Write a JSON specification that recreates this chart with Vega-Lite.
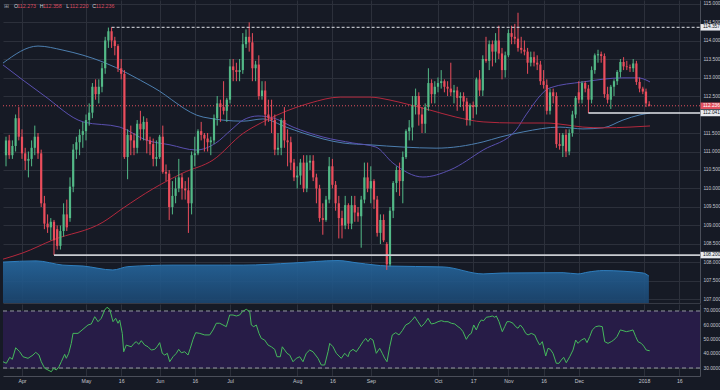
{
"$schema":"https://vega.github.io/schema/vega-lite/v6.json",
"background":"#161a25",
"padding":0,
"autosize":{"type":"pad"},
"spacing":1,
"config":{"view":{"stroke":null},"font":"Liberation Sans","scale":{"continuousPadding":0},"axis":{"labelFont":"Liberation Sans","labelColor":"#c3c6ce","gridColor":"#2c303b","domainColor":"#4a4e59","labelOverlap":false}},
"datasets":{
"ohlc":[
{"i":-5,"o":110.9,"h":111.4,"l":110.6,"c":111.3},{"i":-4,"o":111.3,"h":111.45,"l":110.8,"c":110.9},{"i":-3,"o":110.9,"h":111.3,"l":110.8,"c":111.15},{"i":-2,"o":111.15,"h":112.0,"l":111.0,"c":111.9},{"i":-1,"o":111.9,"h":112.2,"l":111.3,"c":111.4},
{"i":0,"o":111.4,"h":111.6,"l":110.8,"c":110.95},{"i":1,"o":110.95,"h":111.1,"l":110.5,"c":110.75},{"i":2,"o":110.75,"h":111.0,"l":110.3,"c":110.8},{"i":3,"o":110.8,"h":111.3,"l":110.6,"c":111.1},{"i":4,"o":111.1,"h":111.7,"l":110.9,"c":111.4},
{"i":5,"o":111.4,"h":111.5,"l":110.8,"c":110.95},{"i":6,"o":110.95,"h":111.05,"l":109.5,"c":109.6},{"i":7,"o":109.6,"h":109.8,"l":108.9,"c":109.05},{"i":8,"o":109.05,"h":109.3,"l":108.8,"c":108.95},{"i":9,"o":108.95,"h":109.2,"l":108.6,"c":109.1},
{"i":10,"o":109.1,"h":109.15,"l":108.2,"c":108.6},{"i":11,"o":108.9,"h":109.0,"l":108.35,"c":108.45},{"i":12,"o":108.45,"h":109.0,"l":108.35,"c":108.85},{"i":13,"o":108.85,"h":109.6,"l":108.7,"c":109.3},{"i":14,"o":109.3,"h":109.7,"l":108.85,"c":108.95},
{"i":15,"o":109.2,"h":110.3,"l":109.1,"c":110.05},{"i":16,"o":110.05,"h":111.2,"l":109.9,"c":111.05},{"i":17,"o":111.05,"h":111.4,"l":110.8,"c":111.25},{"i":18,"o":111.25,"h":111.6,"l":110.9,"c":111.45},{"i":19,"o":111.45,"h":111.8,"l":111.1,"c":111.55},
{"i":20,"o":111.55,"h":112.0,"l":111.3,"c":111.85},{"i":21,"o":111.85,"h":112.3,"l":111.7,"c":112.05},{"i":22,"o":112.05,"h":112.85,"l":111.9,"c":112.75},{"i":23,"o":112.75,"h":112.95,"l":112.4,"c":112.55},{"i":24,"o":112.55,"h":112.95,"l":112.3,"c":112.75},
{"i":25,"o":112.75,"h":113.4,"l":112.6,"c":113.25},{"i":26,"o":113.25,"h":114.1,"l":113.1,"c":114.0},{"i":27,"o":114.0,"h":114.35,"l":113.8,"c":114.25},{"i":28,"o":114.25,"h":114.357,"l":113.8,"c":114.0},{"i":29,"o":114.0,"h":114.1,"l":113.6,"c":113.85},
{"i":30,"o":113.85,"h":113.9,"l":113.15,"c":113.25},{"i":31,"o":113.25,"h":113.5,"l":112.95,"c":113.1},{"i":32,"o":113.1,"h":113.2,"l":110.8,"c":110.85},{"i":33,"o":110.85,"h":111.6,"l":110.25,"c":111.45},{"i":34,"o":111.45,"h":111.7,"l":110.9,"c":111.3},
{"i":35,"o":111.3,"h":111.5,"l":110.9,"c":111.1},{"i":36,"o":111.1,"h":111.85,"l":110.95,"c":111.75},{"i":37,"o":111.75,"h":112.1,"l":111.3,"c":111.6},{"i":38,"o":111.6,"h":111.95,"l":111.3,"c":111.8},{"i":39,"o":111.8,"h":111.9,"l":110.95,"c":111.3},
{"i":40,"o":111.3,"h":111.4,"l":110.9,"c":111.2},{"i":41,"o":111.2,"h":111.35,"l":110.6,"c":110.8},{"i":42,"o":110.8,"h":111.3,"l":110.6,"c":110.85},{"i":43,"o":110.85,"h":111.45,"l":110.8,"c":111.4},{"i":44,"o":111.4,"h":111.7,"l":110.4,"c":110.45},
{"i":45,"o":110.45,"h":110.65,"l":110.2,"c":110.4},{"i":46,"o":110.4,"h":110.5,"l":109.15,"c":109.5},{"i":47,"o":109.5,"h":110.2,"l":109.3,"c":109.8},{"i":48,"o":109.8,"h":110.3,"l":109.6,"c":110.0},{"i":49,"o":110.0,"h":110.8,"l":109.9,"c":110.3},
{"i":50,"o":110.3,"h":110.4,"l":109.7,"c":110.0},{"i":51,"o":110.0,"h":110.2,"l":109.7,"c":109.95},{"i":52,"o":109.95,"h":110.3,"l":108.8,"c":109.6},{"i":53,"o":109.6,"h":111.0,"l":109.3,"c":110.9},{"i":54,"o":110.9,"h":111.4,"l":110.6,"c":110.95},
{"i":55,"o":110.95,"h":111.6,"l":110.9,"c":111.55},{"i":56,"o":111.55,"h":111.8,"l":111.3,"c":111.45},{"i":57,"o":111.45,"h":111.5,"l":111.0,"c":111.35},{"i":58,"o":111.35,"h":111.5,"l":111.0,"c":111.25},{"i":59,"o":111.25,"h":111.4,"l":110.9,"c":111.3},
{"i":60,"o":111.3,"h":112.0,"l":111.2,"c":111.9},{"i":61,"o":111.9,"h":112.5,"l":111.7,"c":112.3},{"i":62,"o":112.3,"h":112.4,"l":111.8,"c":112.2},{"i":63,"o":112.2,"h":112.9,"l":112.0,"c":112.1},{"i":64,"o":112.1,"h":112.45,"l":111.8,"c":112.4},
{"i":65,"o":112.4,"h":113.5,"l":112.3,"c":113.3},{"i":66,"o":113.3,"h":113.5,"l":112.9,"c":113.2},{"i":67,"o":113.2,"h":113.4,"l":112.9,"c":113.15},{"i":68,"o":113.15,"h":113.5,"l":112.9,"c":113.2},{"i":69,"o":113.2,"h":114.2,"l":113.1,"c":113.9},
{"i":70,"o":113.9,"h":114.3,"l":113.8,"c":114.1},{"i":71,"o":114.1,"h":114.49,"l":113.7,"c":113.95},{"i":72,"o":113.95,"h":114.2,"l":112.9,"c":113.25},{"i":73,"o":113.25,"h":113.45,"l":112.9,"c":113.35},{"i":74,"o":113.35,"h":113.6,"l":112.4,"c":112.5},
{"i":75,"o":112.5,"h":112.9,"l":112.4,"c":112.65},{"i":76,"o":112.65,"h":112.9,"l":111.7,"c":112.0},{"i":77,"o":112.0,"h":112.4,"l":111.8,"c":111.9},{"i":78,"o":111.9,"h":112.4,"l":111.5,"c":111.85},{"i":79,"o":111.85,"h":112.0,"l":110.9,"c":111.05},
{"i":80,"o":111.05,"h":111.5,"l":110.9,"c":111.1},{"i":81,"o":111.1,"h":111.9,"l":110.9,"c":111.85},{"i":82,"o":111.85,"h":112.2,"l":111.1,"c":111.3},{"i":83,"o":111.3,"h":111.6,"l":110.6,"c":111.25},{"i":84,"o":111.25,"h":111.4,"l":110.5,"c":110.7},
{"i":85,"o":110.7,"h":110.8,"l":110.2,"c":110.3},{"i":86,"o":110.3,"h":110.6,"l":110.0,"c":110.35},{"i":87,"o":110.35,"h":110.8,"l":110.1,"c":110.7},{"i":88,"o":110.7,"h":110.9,"l":109.9,"c":110.0},{"i":89,"o":110.0,"h":110.9,"l":109.9,"c":110.7},
{"i":90,"o":110.7,"h":110.9,"l":110.5,"c":110.75},{"i":91,"o":110.75,"h":110.9,"l":110.2,"c":110.3},{"i":92,"o":110.3,"h":110.4,"l":109.6,"c":110.0},{"i":93,"o":110.0,"h":110.1,"l":109.1,"c":109.2},{"i":94,"o":109.2,"h":109.6,"l":108.75,"c":109.15},
{"i":95,"o":109.15,"h":109.8,"l":109.1,"c":109.7},{"i":96,"o":109.7,"h":110.85,"l":109.6,"c":110.6},{"i":97,"o":110.6,"h":110.8,"l":110.0,"c":110.1},{"i":98,"o":110.1,"h":110.2,"l":109.4,"c":109.6},{"i":99,"o":109.6,"h":109.8,"l":108.65,"c":109.2},
{"i":100,"o":109.2,"h":109.4,"l":108.65,"c":109.0},{"i":101,"o":109.0,"h":109.8,"l":108.9,"c":109.55},{"i":102,"o":109.55,"h":109.6,"l":108.9,"c":109.05},{"i":103,"o":109.05,"h":109.8,"l":108.9,"c":109.55},{"i":104,"o":109.55,"h":109.8,"l":109.1,"c":109.35},
{"i":105,"o":109.35,"h":109.5,"l":109.1,"c":109.25},{"i":106,"o":109.25,"h":109.8,"l":108.4,"c":109.7},{"i":107,"o":109.7,"h":110.7,"l":109.6,"c":110.3},{"i":108,"o":110.3,"h":110.7,"l":109.9,"c":110.0},{"i":109,"o":110.0,"h":110.6,"l":109.6,"c":110.2},
{"i":110,"o":110.2,"h":110.25,"l":109.45,"c":109.7},{"i":111,"o":109.7,"h":109.8,"l":108.7,"c":108.8},{"i":112,"o":108.8,"h":109.3,"l":108.5,"c":109.15},{"i":113,"o":109.15,"h":109.3,"l":108.55,"c":108.6},{"i":114,"o":108.5,"h":108.55,"l":107.8,"c":107.95},
{"i":115,"o":107.95,"h":109.5,"l":107.9,"c":109.4},{"i":116,"o":109.4,"h":110.2,"l":109.2,"c":110.15},{"i":117,"o":110.15,"h":110.6,"l":109.9,"c":110.5},{"i":118,"o":110.5,"h":110.7,"l":109.8,"c":110.2},{"i":119,"o":110.2,"h":111.0,"l":109.6,"c":110.85},
{"i":120,"o":110.85,"h":111.6,"l":110.8,"c":111.55},{"i":121,"o":111.55,"h":111.85,"l":111.3,"c":111.65},{"i":122,"o":111.65,"h":112.5,"l":111.3,"c":112.25},{"i":123,"o":112.25,"h":112.7,"l":112.0,"c":112.5},{"i":124,"o":112.5,"h":112.6,"l":111.7,"c":112.0},
{"i":125,"o":112.0,"h":112.2,"l":111.5,"c":111.75},{"i":126,"o":111.75,"h":112.3,"l":111.5,"c":112.2},{"i":127,"o":112.2,"h":113.25,"l":112.1,"c":112.85},{"i":128,"o":112.85,"h":112.95,"l":112.3,"c":112.55},{"i":129,"o":112.55,"h":112.9,"l":112.3,"c":112.75},
{"i":130,"o":112.75,"h":113.0,"l":112.6,"c":112.85},{"i":131,"o":112.85,"h":113.2,"l":112.7,"c":112.9},{"i":132,"o":112.9,"h":112.95,"l":112.6,"c":112.75},{"i":133,"o":112.75,"h":112.9,"l":112.5,"c":112.7},{"i":134,"o":112.7,"h":113.4,"l":112.5,"c":112.6},
{"i":135,"o":112.6,"h":112.8,"l":112.3,"c":112.65},{"i":136,"o":112.65,"h":112.75,"l":112.1,"c":112.45},{"i":137,"o":112.45,"h":112.6,"l":112.2,"c":112.5},{"i":138,"o":112.5,"h":112.6,"l":112.1,"c":112.35},{"i":139,"o":112.35,"h":112.45,"l":111.7,"c":111.85},
{"i":140,"o":111.85,"h":112.3,"l":111.7,"c":112.25},{"i":141,"o":112.25,"h":112.35,"l":111.9,"c":112.2},{"i":142,"o":112.2,"h":113.0,"l":112.0,"c":112.95},{"i":143,"o":112.95,"h":113.2,"l":112.5,"c":112.65},{"i":144,"o":112.65,"h":113.6,"l":112.5,"c":113.5},
{"i":145,"o":113.5,"h":114.1,"l":113.4,"c":113.45},{"i":146,"o":113.45,"h":114.0,"l":113.2,"c":113.9},{"i":147,"o":113.9,"h":114.0,"l":113.3,"c":113.7},{"i":148,"o":113.7,"h":114.2,"l":113.4,"c":114.0},{"i":149,"o":114.0,"h":114.4,"l":113.5,"c":113.65},
{"i":150,"o":113.65,"h":113.8,"l":112.95,"c":113.2},{"i":151,"o":113.2,"h":113.7,"l":113.0,"c":113.6},{"i":152,"o":113.6,"h":114.3,"l":113.55,"c":114.2},{"i":153,"o":114.2,"h":114.4,"l":113.9,"c":114.1},{"i":154,"o":114.1,"h":114.45,"l":113.9,"c":114.05},
{"i":155,"o":114.05,"h":114.75,"l":113.7,"c":113.8},{"i":156,"o":113.8,"h":114.1,"l":113.65,"c":113.75},{"i":157,"o":113.75,"h":114.0,"l":113.6,"c":113.7},{"i":158,"o":113.7,"h":113.8,"l":113.1,"c":113.4},{"i":159,"o":113.4,"h":113.7,"l":113.3,"c":113.55},
{"i":160,"o":113.55,"h":113.7,"l":113.3,"c":113.4},{"i":161,"o":113.4,"h":113.6,"l":113.2,"c":113.35},{"i":162,"o":113.35,"h":113.45,"l":112.8,"c":112.9},{"i":163,"o":112.9,"h":113.2,"l":112.7,"c":112.8},{"i":164,"o":112.8,"h":112.95,"l":112.0,"c":112.1},
{"i":165,"o":112.1,"h":112.7,"l":112.0,"c":112.6},{"i":166,"o":112.6,"h":112.7,"l":112.3,"c":112.5},{"i":167,"o":112.5,"h":112.6,"l":111.1,"c":111.2},{"i":168,"o":111.2,"h":111.5,"l":111.05,"c":111.15},{"i":169,"o":111.15,"h":111.5,"l":110.85,"c":111.45},
{"i":170,"o":111.45,"h":111.6,"l":110.85,"c":111.0},{"i":171,"o":111.0,"h":111.6,"l":110.9,"c":111.5},{"i":172,"o":111.5,"h":112.1,"l":111.4,"c":112.0},{"i":173,"o":112.0,"h":112.5,"l":111.9,"c":112.45},{"i":174,"o":112.6,"h":112.9,"l":112.3,"c":112.4},
{"i":175,"o":112.4,"h":112.9,"l":112.3,"c":112.85},{"i":176,"o":112.85,"h":112.9,"l":112.6,"c":112.7},{"i":177,"o":112.7,"h":112.8,"l":112.041,"c":112.4},{"i":178,"o":112.4,"h":113.3,"l":112.3,"c":113.2},{"i":179,"o":113.2,"h":113.65,"l":113.1,"c":113.6},
{"i":180,"o":113.6,"h":113.75,"l":113.4,"c":113.63},{"i":181,"o":113.63,"h":113.7,"l":113.4,"c":113.58},{"i":182,"o":113.58,"h":113.65,"l":112.45,"c":112.55},{"i":183,"o":112.55,"h":112.75,"l":112.3,"c":112.4},{"i":184,"o":112.4,"h":112.8,"l":112.15,"c":112.75},
{"i":185,"o":112.75,"h":112.95,"l":112.5,"c":112.9},{"i":186,"o":112.9,"h":113.2,"l":112.8,"c":113.15},{"i":187,"o":113.15,"h":113.5,"l":113.0,"c":113.42},{"i":188,"o":113.42,"h":113.55,"l":113.2,"c":113.3},{"i":189,"o":113.3,"h":113.45,"l":113.2,"c":113.28},
{"i":190,"o":113.28,"h":113.35,"l":113.15,"c":113.25},{"i":191,"o":113.25,"h":113.5,"l":113.15,"c":113.38},{"i":192,"o":113.38,"h":113.45,"l":112.8,"c":112.88},{"i":193,"o":112.88,"h":113.0,"l":112.6,"c":112.7},{"i":194,"o":112.7,"h":112.75,"l":112.55,"c":112.62},
{"i":195,"o":112.62,"h":112.7,"l":112.2,"c":112.3},{"i":196,"o":112.273,"h":112.358,"l":112.22,"c":112.236}
],
"ma":[
{"s":"b","i":-5.94,"p":113.39},{"s":"b","i":5.0,"p":113.85},{"s":"b","i":12.8,"p":113.74},{"s":"b","i":25.3,"p":113.42},{"s":"b","i":40.9,"p":112.74},{"s":"b","i":56.6,"p":111.93},{"s":"b","i":69.1,"p":111.82},{"s":"b","i":75.3,"p":111.88},{"s":"b","i":82.5,"p":111.66},{"s":"b","i":87.8,"p":111.5},{"s":"b","i":100.3,"p":111.23},{"s":"b","i":108.75,"p":111.18},{"s":"b","i":119.1,"p":111.12},{"s":"b","i":129.4,"p":111.09},{"s":"b","i":144.1,"p":111.26},{"s":"b","i":149.4,"p":111.39},{"s":"b","i":156.6,"p":111.53},{"s":"b","i":168.1,"p":111.66},{"s":"b","i":175.3,"p":111.61},{"s":"b","i":181.6,"p":111.64},{"s":"b","i":187.8,"p":111.85},{"s":"b","i":193.1,"p":111.99},{"s":"b","i":196.25,"p":112.04},
{"s":"p","i":-5.94,"p":113.34},{"s":"p","i":6.6,"p":112.53},{"s":"p","i":19.1,"p":111.8},{"s":"p","i":30.6,"p":111.66},{"s":"p","i":38.75,"p":111.31},{"s":"p","i":46.25,"p":111.18},{"s":"p","i":54.4,"p":111.04},{"s":"p","i":60.6,"p":111.23},{"s":"p","i":65.3,"p":111.58},{"s":"p","i":69.1,"p":111.85},{"s":"p","i":73.75,"p":111.96},{"s":"p","i":78.4,"p":111.91},{"s":"p","i":84.7,"p":111.66},{"s":"p","i":94.1,"p":111.39},{"s":"p","i":103.4,"p":111.23},{"s":"p","i":110.6,"p":111.12},{"s":"p","i":115.9,"p":110.69},{"s":"p","i":125.3,"p":110.31},{"s":"p","i":133.75,"p":110.5},{"s":"p","i":144.1,"p":111.04},{"s":"p","i":154.4,"p":111.58},{"s":"p","i":157.5,"p":111.99},{"s":"p","i":165.0,"p":112.72},{"s":"p","i":175.3,"p":112.88},{"s":"p","i":187.8,"p":112.99},{"s":"p","i":192.5,"p":112.99},{"s":"p","i":196.25,"p":112.88},
{"s":"r","i":-5.94,"p":108.09},{"s":"r","i":0.3,"p":108.26},{"s":"r","i":9.7,"p":108.61},{"s":"r","i":25.3,"p":109.09},{"s":"r","i":31.6,"p":109.47},{"s":"r","i":40.9,"p":109.99},{"s":"r","i":50.3,"p":110.42},{"s":"r","i":59.7,"p":110.77},{"s":"r","i":69.1,"p":111.49},{"s":"r","i":75.3,"p":111.8},{"s":"r","i":90.0,"p":112.31},{"s":"r","i":99.4,"p":112.47},{"s":"r","i":108.75,"p":112.47},{"s":"r","i":115.0,"p":112.39},{"s":"r","i":121.25,"p":112.26},{"s":"r","i":127.5,"p":112.12},{"s":"r","i":135.6,"p":111.93},{"s":"r","i":144.1,"p":111.8},{"s":"r","i":154.4,"p":111.77},{"s":"r","i":163.75,"p":111.77},{"s":"r","i":170.0,"p":111.72},{"s":"r","i":175.3,"p":111.66},{"s":"r","i":181.6,"p":111.64},{"s":"r","i":190.0,"p":111.66},{"s":"r","i":196.25,"p":111.69}
],
"vol":[
{"i":-5.94,"v":13.5},{"i":4.4,"v":13.9},{"i":12.8,"v":12.5},{"i":19.1,"v":12.2},{"i":28.4,"v":10.9},{"i":33.1,"v":12.0},{"i":47.2,"v":12.5},{"i":62.8,"v":12.5},{"i":69.1,"v":12.5},{"i":84.7,"v":13.2},{"i":98.75,"v":14.0},{"i":105.0,"v":13.2},{"i":114.4,"v":12.2},{"i":131.6,"v":11.9},{"i":144.1,"v":9.6},{"i":150.3,"v":9.9},{"i":169.1,"v":10.0},{"i":173.75,"v":9.6},{"i":176.9,"v":10.2},{"i":181.6,"v":10.7},{"i":194.1,"v":9.9},{"i":195.9,"v":8.9}
],
"rsi":[
{"i":-5.94,"v":34.4},{"i":-4.9,"v":33.3},{"i":-3.84,"v":37.5},{"i":-3.03,"v":36.1},{"i":-1.97,"v":44.2},{"i":-0.72,"v":41.4},{"i":0.31,"v":37.9},{"i":1.88,"v":36.8},{"i":3.44,"v":39.1},{"i":4.28,"v":41.0},{"i":5.31,"v":39.1},{"i":6.03,"v":34.4},{"i":7.09,"v":29.8},{"i":8.13,"v":28.6},{"i":9.16,"v":27.4},{"i":9.9,"v":29.8},{"i":10.72,"v":28.6},{"i":11.56,"v":30.9},{"i":12.28,"v":34.4},{"i":13.34,"v":39.6},{"i":13.84,"v":36.8},{"i":14.59,"v":40.3},{"i":15.41,"v":47.3},{"i":15.94,"v":54.3},{"i":17.5,"v":54.3},{"i":19.06,"v":57.2},{"i":20.63,"v":60.2},{"i":21.66,"v":60.9},{"i":22.72,"v":66.0},{"i":23.75,"v":62.5},{"i":24.78,"v":64.9},{"i":25.84,"v":70.7},{"i":26.56,"v":72.6},{"i":27.41,"v":71.2},{"i":28.44,"v":62.5},{"i":29.28,"v":64.9},{"i":30.0,"v":61.4},{"i":30.53,"v":63.7},{"i":31.34,"v":54.3},{"i":31.78,"v":41.4},{"i":32.59,"v":46.1},{"i":33.44,"v":45.4},{"i":34.16,"v":44.9},{"i":35.0,"v":47.3},{"i":35.72,"v":48.5},{"i":36.47,"v":46.6},{"i":37.28,"v":49.2},{"i":38.34,"v":46.1},{"i":39.38,"v":44.9},{"i":40.41,"v":42.6},{"i":41.47,"v":43.1},{"i":42.19,"v":44.9},{"i":43.03,"v":47.8},{"i":43.84,"v":40.3},{"i":44.59,"v":39.1},{"i":45.41,"v":40.3},{"i":46.16,"v":34.4},{"i":47.19,"v":37.9},{"i":48.22,"v":40.3},{"i":48.97,"v":43.1},{"i":49.78,"v":40.7},{"i":50.84,"v":41.4},{"i":51.88,"v":39.1},{"i":52.59,"v":43.8},{"i":53.44,"v":50.1},{"i":54.28,"v":54.8},{"i":55.53,"v":54.3},{"i":57.09,"v":53.2},{"i":58.66,"v":53.2},{"i":59.69,"v":56.7},{"i":60.72,"v":61.4},{"i":61.78,"v":61.4},{"i":62.81,"v":60.2},{"i":63.84,"v":59.0},{"i":64.91,"v":67.2},{"i":65.94,"v":67.2},{"i":66.97,"v":66.5},{"i":68.03,"v":67.2},{"i":68.84,"v":69.5},{"i":70.09,"v":71.2},{"i":71.16,"v":69.5},{"i":71.66,"v":60.2},{"i":72.41,"v":59.0},{"i":73.22,"v":60.2},{"i":74.06,"v":54.3},{"i":74.78,"v":50.8},{"i":75.84,"v":49.6},{"i":76.88,"v":46.1},{"i":77.91,"v":44.9},{"i":78.97,"v":43.1},{"i":79.69,"v":37.9},{"i":80.72,"v":37.9},{"i":81.34,"v":44.9},{"i":82.09,"v":42.6},{"i":82.81,"v":40.3},{"i":83.66,"v":39.1},{"i":84.69,"v":34.4},{"i":85.72,"v":36.8},{"i":86.78,"v":37.9},{"i":87.81,"v":34.4},{"i":88.84,"v":40.3},{"i":89.91,"v":42.6},{"i":90.94,"v":41.4},{"i":92.5,"v":36.8},{"i":93.53,"v":32.1},{"i":94.59,"v":32.1},{"i":95.63,"v":41.4},{"i":96.16,"v":47.3},{"i":97.19,"v":44.9},{"i":98.22,"v":40.3},{"i":99.78,"v":36.8},{"i":100.84,"v":40.3},{"i":101.88,"v":37.9},{"i":102.41,"v":41.4},{"i":103.44,"v":43.1},{"i":104.47,"v":41.4},{"i":105.53,"v":44.9},{"i":106.56,"v":48.5},
{"i":107.41,"v":50.8},{"i":108.13,"v":48.5},{"i":108.84,"v":50.8},{"i":109.69,"v":49.6},{"i":110.72,"v":40.3},{"i":111.78,"v":43.8},{"i":112.59,"v":40.3},{"i":113.34,"v":36.8},{"i":114.06,"v":34.4},{"i":114.91,"v":44.9},{"i":115.72,"v":53.2},{"i":116.78,"v":54.8},{"i":117.81,"v":53.2},{"i":118.84,"v":56.2},{"i":119.91,"v":60.2},{"i":120.94,"v":61.4},{"i":121.97,"v":63.7},{"i":122.72,"v":66.0},{"i":123.75,"v":62.5},{"i":124.78,"v":59.0},{"i":125.84,"v":61.4},{"i":126.88,"v":64.9},{"i":127.91,"v":60.9},{"i":128.97,"v":61.4},{"i":130.0,"v":62.5},{"i":131.03,"v":63.2},{"i":132.09,"v":62.5},{"i":133.13,"v":62.5},{"i":134.16,"v":61.4},{"i":135.22,"v":60.9},{"i":136.25,"v":59.0},{"i":136.97,"v":57.9},{"i":137.81,"v":55.5},{"i":138.84,"v":50.1},{"i":139.69,"v":53.2},{"i":140.41,"v":54.3},{"i":141.16,"v":60.2},{"i":141.97,"v":56.7},{"i":142.81,"v":61.4},{"i":143.53,"v":63.7},{"i":144.28,"v":63.2},{"i":145.09,"v":65.6},{"i":146.16,"v":66.0},{"i":146.97,"v":66.5},{"i":147.72,"v":65.6},{"i":148.22,"v":66.5},{"i":149.06,"v":62.5},{"i":150.09,"v":55.5},{"i":150.84,"v":59.0},{"i":151.56,"v":62.5},{"i":152.41,"v":62.5},{"i":153.44,"v":61.4},{"i":154.28,"v":59.0},{"i":155.0,"v":57.9},{"i":155.72,"v":60.2},{"i":156.56,"v":57.9},{"i":157.41,"v":54.3},{"i":158.13,"v":53.2},{"i":159.16,"v":54.3},{"i":160.22,"v":53.2},{"i":160.94,"v":49.6},{"i":161.78,"v":46.1},{"i":162.59,"v":48.5},{"i":163.66,"v":38.4},{"i":164.38,"v":43.8},{"i":165.09,"v":43.1},{"i":165.94,"v":40.3},{"i":166.97,"v":33.3},{"i":167.81,"v":33.3},{"i":168.53,"v":35.6},{"i":169.28,"v":37.5},{"i":170.09,"v":33.7},{"i":171.16,"v":37.9},{"i":172.19,"v":42.6},{"i":173.03,"v":49.6},{"i":173.75,"v":47.3},{"i":174.78,"v":49.6},{"i":175.84,"v":50.8},{"i":176.56,"v":47.8},{"i":177.41,"v":52.0},{"i":178.22,"v":56.7},{"i":179.28,"v":59.0},{"i":180.31,"v":59.5},{"i":181.34,"v":59.0},{"i":182.09,"v":48.5},{"i":183.13,"v":47.3},{"i":184.16,"v":48.5},{"i":184.91,"v":49.6},{"i":185.94,"v":52.0},{"i":186.97,"v":56.7},{"i":187.81,"v":56.2},{"i":188.84,"v":55.5},{"i":189.91,"v":56.0},{"i":190.94,"v":56.7},{"i":191.78,"v":52.0},{"i":192.5,"v":48.5},{"i":193.53,"v":47.3},{"i":194.28,"v":45.4},{"i":195.09,"v":42.6},{"i":196.16,"v":42.1}
],
"tags":[{"p":114.357,"t":"114.357","k":"w"},{"p":112.236,"t":"112.236","k":"r"},{"p":112.041,"t":"112.041","k":"w"},{"p":108.2,"t":"108.200","k":"w"}],
"hdr":[{"t":"⊞","k":"i","x":-5.6},{"t":"O","k":"l","x":-2.5},{"t":"112.273","k":"v","x":-1.47},{"t":"H","k":"l","x":5.53},{"t":"112.358","k":"v","x":6.56},{"t":"L","k":"l","x":13.84},{"t":"112.220","k":"v","x":14.9},{"t":"C","k":"l","x":21.97},{"t":"112.236","k":"v","x":23.03}]
},
"vconcat":[
{
"width":697,"height":303,
"layer":[
{"data":{"name":"vol"},
 "mark":{"type":"area","interpolate":"monotone","opacity":0.9,"color":{"gradient":"linear","x1":0,"y1":0,"x2":0,"y2":1,"stops":[{"offset":0,"color":"#2668a0"},{"offset":1,"color":"#1b4670"}]},"line":{"color":"#2f7fbf","strokeWidth":1}},
 "encoding":{"x":{"field":"i","type":"quantitative","scale":{"domain":[-5.9375,211.875],"nice":false,"zero":false,"padding":0},"axis":{"values":[0,20,31,43,54,65,86,97,109,130,141,152,163,174,194.4,205.4],"labels":false,"ticks":false,"domain":true,"domainColor":"#363a45","grid":true,"gridColor":"#2c303b","title":null,"minExtent":0,"maxExtent":0}},
  "y":{"field":"v","type":"quantitative","scale":{"domain":[0,100],"nice":false,"zero":true,"padding":0},"axis":null}}},
{"layer":[
 {"data":{"name":"ma"},"mark":{"type":"line","interpolate":"monotone","strokeWidth":1},
  "encoding":{"x":{"field":"i","type":"quantitative","scale":{"domain":[-5.9375,211.875],"nice":false,"zero":false,"padding":0},"axis":{"values":[0,20,31,43,54,65,86,97,109,130,141,152,163,174,194.4,205.4],"labels":false,"ticks":false,"domain":true,"domainColor":"#363a45","grid":true,"gridColor":"#2c303b","title":null,"minExtent":0,"maxExtent":0}},
   "y":{"field":"p","type":"quantitative","scale":{"domain":[106.905,115.095],"nice":false,"zero":false,"padding":0},"axis":{"orient":"right","values":[107,107.5,108,108.5,109,109.5,110,110.5,111,111.5,112.5,113,113.5,114,114.5,115],"format":".3f","labelFontSize":4.8,"labelPadding":3,"labelOverlap":false,"labelBound":false,"ticks":false,"domain":true,"domainColor":"#4a4e59","grid":true,"gridColor":"#2c303b","title":null,"minExtent":23,"maxExtent":23}},
   "detail":{"field":"s"},
   "color":{"condition":[{"test":"datum.s==='r'","value":"#b3283d"},{"test":"datum.s==='b'","value":"#4d7fb0"}],"value":"#5a50b0"}}},
 {"data":{"name":"ohlc"},"mark":{"type":"rule","strokeWidth":1},
  "encoding":{"x":{"field":"i","type":"quantitative","axis":{"values":[0,20,31,43,54,65,86,97,109,130,141,152,163,174,194.4,205.4],"labels":false,"ticks":false,"domain":true,"domainColor":"#363a45","grid":true,"gridColor":"#2c303b","title":null,"minExtent":0,"maxExtent":0}},
   "y":{"field":"l","type":"quantitative","axis":{"orient":"right","values":[107,107.5,108,108.5,109,109.5,110,110.5,111,111.5,112.5,113,113.5,114,114.5,115],"format":".3f","labelFontSize":4.8,"labelPadding":3,"labelOverlap":false,"labelBound":false,"ticks":false,"domain":true,"domainColor":"#4a4e59","grid":true,"gridColor":"#2c303b","title":null,"minExtent":23,"maxExtent":23}},"y2":{"field":"h"},
   "color":{"condition":{"test":"datum.c < datum.o","value":"#eb4d5c"},"value":"#53b987"}}},
 {"data":{"name":"ohlc"},"mark":{"type":"bar","size":2.2},
  "encoding":{"x":{"field":"i","type":"quantitative","axis":{"values":[0,20,31,43,54,65,86,97,109,130,141,152,163,174,194.4,205.4],"labels":false,"ticks":false,"domain":true,"domainColor":"#363a45","grid":true,"gridColor":"#2c303b","title":null,"minExtent":0,"maxExtent":0}},
   "y":{"field":"o","type":"quantitative","axis":{"orient":"right","values":[107,107.5,108,108.5,109,109.5,110,110.5,111,111.5,112.5,113,113.5,114,114.5,115],"format":".3f","labelFontSize":4.8,"labelPadding":3,"labelOverlap":false,"labelBound":false,"ticks":false,"domain":true,"domainColor":"#4a4e59","grid":true,"gridColor":"#2c303b","title":null,"minExtent":23,"maxExtent":23}},"y2":{"field":"c"},
   "color":{"condition":{"test":"datum.c < datum.o","value":"#eb4d5c"},"value":"#53b987"}}},
 {"data":{"values":[{"p":112.236,"s":-5.9375}]},"mark":{"type":"rule","color":"#e0505f","strokeWidth":1,"strokeDash":[1,2]},
  "encoding":{"x":{"field":"s","type":"quantitative","axis":{"values":[0,20,31,43,54,65,86,97,109,130,141,152,163,174,194.4,205.4],"labels":false,"ticks":false,"domain":true,"domainColor":"#363a45","grid":true,"gridColor":"#2c303b","title":null,"minExtent":0,"maxExtent":0}},"x2":{"datum":211.875},
   "y":{"field":"p","type":"quantitative","axis":{"orient":"right","values":[107,107.5,108,108.5,109,109.5,110,110.5,111,111.5,112.5,113,113.5,114,114.5,115],"format":".3f","labelFontSize":4.8,"labelPadding":3,"labelOverlap":false,"labelBound":false,"ticks":false,"domain":true,"domainColor":"#4a4e59","grid":true,"gridColor":"#2c303b","title":null,"minExtent":23,"maxExtent":23}}}},
 {"data":{"values":[{"p":114.357,"s":28},{"p":112.041,"s":177},{"p":108.2,"s":10}]},"mark":{"type":"rule"},
  "encoding":{"x":{"field":"s","type":"quantitative","axis":{"values":[0,20,31,43,54,65,86,97,109,130,141,152,163,174,194.4,205.4],"labels":false,"ticks":false,"domain":true,"domainColor":"#363a45","grid":true,"gridColor":"#2c303b","title":null,"minExtent":0,"maxExtent":0}},"x2":{"datum":211.875},
   "y":{"field":"p","type":"quantitative","axis":{"orient":"right","values":[107,107.5,108,108.5,109,109.5,110,110.5,111,111.5,112.5,113,113.5,114,114.5,115],"format":".3f","labelFontSize":4.8,"labelPadding":3,"labelOverlap":false,"labelBound":false,"ticks":false,"domain":true,"domainColor":"#4a4e59","grid":true,"gridColor":"#2c303b","title":null,"minExtent":23,"maxExtent":23}},
   "color":{"condition":{"test":"datum.p===108.2","value":"#c9cbd1"},"value":"#e2e4ea"},
   "strokeWidth":{"condition":{"test":"datum.p===114.357","value":1},"value":1.6},
   "strokeDash":{"condition":{"test":"datum.p===114.357","value":[3,2]},"value":[1,0]}}},
 {"data":{"name":"tags"},"mark":{"type":"rect","height":6.5},
  "encoding":{"x":{"datum":212.05},"x2":{"datum":219.4},
   "y":{"field":"p","type":"quantitative","axis":{"orient":"right","values":[107,107.5,108,108.5,109,109.5,110,110.5,111,111.5,112.5,113,113.5,114,114.5,115],"format":".3f","labelFontSize":4.8,"labelPadding":3,"labelOverlap":false,"labelBound":false,"ticks":false,"domain":true,"domainColor":"#4a4e59","grid":true,"gridColor":"#2c303b","title":null,"minExtent":23,"maxExtent":23}},
   "color":{"condition":{"test":"datum.k==='r'","value":"#e0505f"},"value":"#e8eaef"}}},
 {"data":{"name":"tags"},"mark":{"type":"text","align":"left","baseline":"middle","fontSize":4.8,"font":"Liberation Sans"},
  "encoding":{"x":{"datum":212.8},
   "y":{"field":"p","type":"quantitative","axis":{"orient":"right","values":[107,107.5,108,108.5,109,109.5,110,110.5,111,111.5,112.5,113,113.5,114,114.5,115],"format":".3f","labelFontSize":4.8,"labelPadding":3,"labelOverlap":false,"labelBound":false,"ticks":false,"domain":true,"domainColor":"#4a4e59","grid":true,"gridColor":"#2c303b","title":null,"minExtent":23,"maxExtent":23}},"text":{"field":"t"},
   "color":{"condition":{"test":"datum.k==='r'","value":"#ffffff"},"value":"#131722"}}},
 {"data":{"name":"hdr"},"mark":{"type":"text","align":"left","baseline":"middle","font":"Liberation Sans"},
  "encoding":{"x":{"field":"x","type":"quantitative","axis":{"values":[0,20,31,43,54,65,86,97,109,130,141,152,163,174,194.4,205.4],"labels":false,"ticks":false,"domain":true,"domainColor":"#363a45","grid":true,"gridColor":"#2c303b","title":null,"minExtent":0,"maxExtent":0}},
   "y":{"datum":114.94,"axis":{"orient":"right","values":[107,107.5,108,108.5,109,109.5,110,110.5,111,111.5,112.5,113,113.5,114,114.5,115],"format":".3f","labelFontSize":4.8,"labelPadding":3,"labelOverlap":false,"labelBound":false,"ticks":false,"domain":true,"domainColor":"#4a4e59","grid":true,"gridColor":"#2c303b","title":null,"minExtent":23,"maxExtent":23}},"text":{"field":"t"},
   "size":{"condition":{"test":"datum.k==='i'","value":6},"value":5.3},
   "color":{"condition":[{"test":"datum.k==='v'","value":"#d9485d"},{"test":"datum.k==='i'","value":"#9598a1"}],"value":"#d1d4dc"}}}
]}
],
"resolve":{"scale":{"y":"independent"},"axis":{"y":"independent"}}
},
{
"width":697,"height":72,
"layer":[
 {"data":{"values":[{"a":70,"b":30,"s":-5.9375}]},"mark":{"type":"rect","color":"#271c47"},
  "encoding":{"x":{"field":"s","type":"quantitative","scale":{"domain":[-5.9375,211.875],"nice":false,"zero":false,"padding":0},"axis":{"values":[0,20,31,43,54,65,86,97,109,130,141,152,163,174,194.4,205.4],"labelExpr":"{'0':'Apr','20':'May','31':'16','43':'Jun','54':'16','65':'Jul','86':'Aug','97':'16','109':'Sep','130':'Oct','141':'17','152':'Nov','163':'16','174':'Dec','194.4':'2018','205.4':'16'}[datum.value]","labelFontSize":5.2,"labelPadding":2,"labelFlush":false,"labelOverlap":false,"ticks":false,"domain":true,"domainColor":"#4a4e59","grid":true,"gridColor":"#2c303b","title":null,"minExtent":14,"maxExtent":14}},"x2":{"datum":211.875},
   "y":{"field":"a","type":"quantitative","scale":{"domain":[24.39,74.91],"nice":false,"zero":false,"padding":0},"axis":{"orient":"right","values":[30,40,50,60,70],"format":".4f","labelFontSize":4.8,"labelPadding":3,"labelOverlap":false,"labelBound":false,"ticks":false,"domain":true,"domainColor":"#4a4e59","grid":true,"gridColor":"#2c303b","title":null,"minExtent":23,"maxExtent":23}},"y2":{"field":"b"}}},
 {"data":{"values":[{"v":70,"s":-5.9375},{"v":30,"s":-5.9375}]},"mark":{"type":"rule","color":"#9598a1","strokeWidth":1,"strokeDash":[4,3]},
  "encoding":{"x":{"field":"s","type":"quantitative","axis":{"values":[0,20,31,43,54,65,86,97,109,130,141,152,163,174,194.4,205.4],"labelExpr":"{'0':'Apr','20':'May','31':'16','43':'Jun','54':'16','65':'Jul','86':'Aug','97':'16','109':'Sep','130':'Oct','141':'17','152':'Nov','163':'16','174':'Dec','194.4':'2018','205.4':'16'}[datum.value]","labelFontSize":5.2,"labelPadding":2,"labelFlush":false,"labelOverlap":false,"ticks":false,"domain":true,"domainColor":"#4a4e59","grid":true,"gridColor":"#2c303b","title":null,"minExtent":14,"maxExtent":14}},"x2":{"datum":211.875},
   "y":{"field":"v","type":"quantitative","axis":{"orient":"right","values":[30,40,50,60,70],"format":".4f","labelFontSize":4.8,"labelPadding":3,"labelOverlap":false,"labelBound":false,"ticks":false,"domain":true,"domainColor":"#4a4e59","grid":true,"gridColor":"#2c303b","title":null,"minExtent":23,"maxExtent":23}}}},
 {"data":{"name":"rsi"},"mark":{"type":"line","color":"#45b85c","strokeWidth":1},
  "encoding":{"x":{"field":"i","type":"quantitative","axis":{"values":[0,20,31,43,54,65,86,97,109,130,141,152,163,174,194.4,205.4],"labelExpr":"{'0':'Apr','20':'May','31':'16','43':'Jun','54':'16','65':'Jul','86':'Aug','97':'16','109':'Sep','130':'Oct','141':'17','152':'Nov','163':'16','174':'Dec','194.4':'2018','205.4':'16'}[datum.value]","labelFontSize":5.2,"labelPadding":2,"labelFlush":false,"labelOverlap":false,"ticks":false,"domain":true,"domainColor":"#4a4e59","grid":true,"gridColor":"#2c303b","title":null,"minExtent":14,"maxExtent":14}},
   "y":{"field":"v","type":"quantitative","axis":{"orient":"right","values":[30,40,50,60,70],"format":".4f","labelFontSize":4.8,"labelPadding":3,"labelOverlap":false,"labelBound":false,"ticks":false,"domain":true,"domainColor":"#4a4e59","grid":true,"gridColor":"#2c303b","title":null,"minExtent":23,"maxExtent":23}}}}
]
}
]
}
